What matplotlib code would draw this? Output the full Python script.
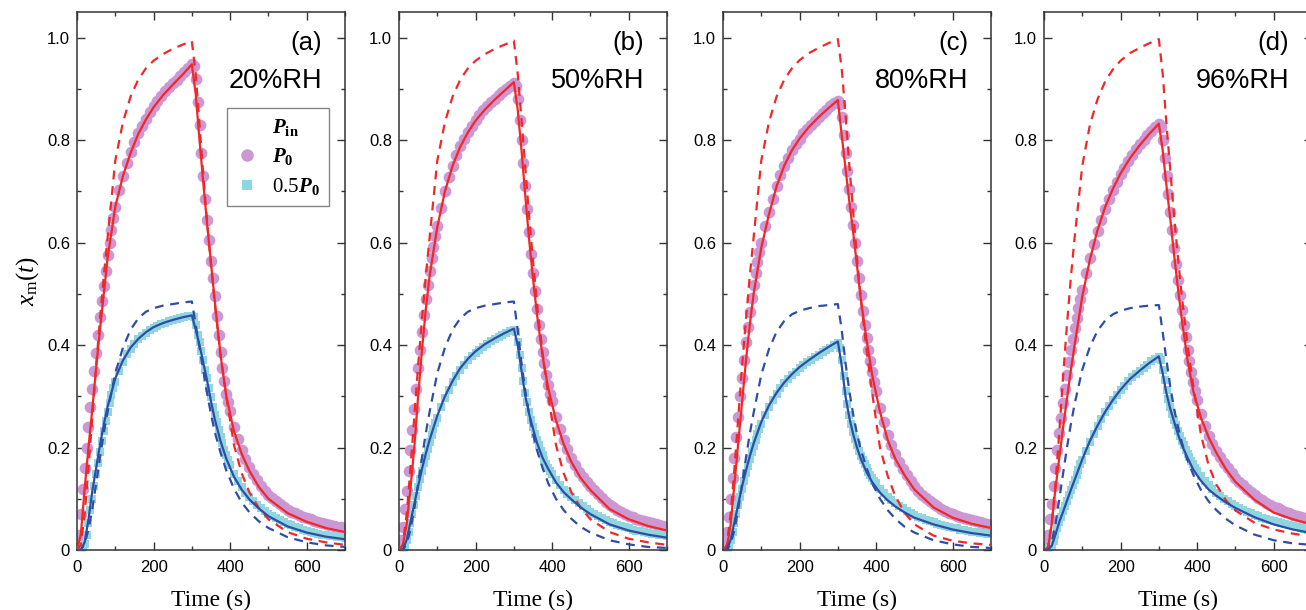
import matplotlib
matplotlib.use("Agg")
import matplotlib.pyplot as plt
from matplotlib.lines import Line2D
from matplotlib.ticker import MultipleLocator

plt.rcParams['font.family'] = ['Liberation Sans', 'DejaVu Sans']
plt.rcParams['mathtext.fontset'] = 'custom'
plt.rcParams['mathtext.rm'] = 'Liberation Serif'
plt.rcParams['mathtext.it'] = 'Liberation Serif:italic'
plt.rcParams['mathtext.bf'] = 'Liberation Serif:bold'
plt.rcParams['mathtext.bfit'] = 'Liberation Serif:italic:bold'

# time grids (s)
t_line = [0, 10, 20, 30, 40, 50, 60, 70, 80, 100, 120, 140, 160, 180, 200, 225, 250, 275, 300,
          310, 320, 330, 340, 350, 360, 375, 390, 410, 430, 450, 475, 500, 550, 600, 650, 700]
t_data = [0, 5, 10, 15, 20, 25, 30, 35, 40, 45, 50, 55, 60, 65, 70, 75, 80, 85, 90, 95, 100,
          110, 120, 130, 140, 150, 160, 170, 180, 190, 200, 210, 220, 230, 240, 250, 260, 270, 280, 290,
          300, 305, 310, 315, 320, 325, 330, 335, 340, 345, 350, 355, 360, 365, 370, 375, 380, 385,
          390, 395, 400,
          410, 420, 430, 440, 450, 460, 470, 480, 490, 500, 510, 520, 530, 540, 550, 560, 570, 580,
          590, 600, 610, 620, 630, 640, 650, 660, 670, 680, 690, 700]

panel_tags = ['(a)', '(b)', '(c)', '(d)']
rh_labels = ['20%RH', '50%RH', '80%RH', '96%RH']

# ---- (a) 20%RH ----
p0_a = [0, 0.03, 0.07, 0.12, 0.16, 0.2, 0.24, 0.28, 0.315, 0.35, 0.385, 0.42, 0.455, 0.485, 0.515,
        0.545, 0.575, 0.6, 0.625, 0.648, 0.67,
        0.702, 0.73, 0.755, 0.777, 0.796, 0.813, 0.828, 0.842, 0.854, 0.866, 0.876, 0.886, 0.895,
        0.903, 0.911, 0.918, 0.926, 0.933, 0.94,
        0.948, 0.945, 0.92, 0.875, 0.83, 0.775, 0.73, 0.685, 0.645, 0.605, 0.565, 0.53, 0.495, 0.457,
        0.42, 0.386, 0.356, 0.33, 0.305, 0.288, 0.272,
        0.24, 0.216, 0.195, 0.178, 0.162, 0.148, 0.136, 0.125, 0.116, 0.108, 0.101, 0.095, 0.09,
        0.084, 0.079, 0.075, 0.072, 0.068, 0.065, 0.062, 0.06, 0.057, 0.055, 0.052, 0.05, 0.048,
        0.047, 0.045, 0.044, 0.043]
half_a = [0, 0, 0, 0.003, 0.012, 0.03, 0.052, 0.078, 0.1, 0.125, 0.148, 0.17, 0.192, 0.213, 0.233,
          0.252, 0.27, 0.287, 0.302, 0.316, 0.328,
          0.35, 0.367, 0.382, 0.393, 0.403, 0.411, 0.418, 0.424, 0.429, 0.434, 0.438, 0.441, 0.444,
          0.447, 0.449, 0.451, 0.453, 0.455, 0.456,
          0.457, 0.455, 0.44, 0.42, 0.405, 0.388, 0.37, 0.352, 0.335, 0.316, 0.298, 0.28, 0.263,
          0.249, 0.235, 0.221, 0.208, 0.196, 0.185, 0.175, 0.165,
          0.148, 0.134, 0.122, 0.112, 0.103, 0.095, 0.088, 0.082, 0.076, 0.071, 0.066, 0.062, 0.058,
          0.054, 0.051, 0.048, 0.045, 0.042, 0.04, 0.038, 0.036, 0.034, 0.032, 0.03, 0.029, 0.028,
          0.027, 0.026, 0.025, 0.024]
fit_p0_a = [0, 0.03, 0.12, 0.2, 0.275, 0.355, 0.43, 0.5, 0.57, 0.67, 0.73, 0.775, 0.812, 0.84,
            0.864, 0.888, 0.908, 0.927, 0.948,
            0.89, 0.8, 0.715, 0.635, 0.56, 0.485, 0.38, 0.3, 0.232, 0.188, 0.155, 0.123, 0.1,
            0.072, 0.055, 0.043, 0.035]
fit_half_a = [0, 0, 0.015, 0.06, 0.115, 0.16, 0.205, 0.245, 0.28, 0.335, 0.37, 0.395, 0.412, 0.425,
              0.435, 0.443, 0.449, 0.454, 0.458,
              0.43, 0.4, 0.365, 0.33, 0.29, 0.255, 0.212, 0.178, 0.143, 0.118, 0.099, 0.081, 0.066,
              0.046, 0.034, 0.026, 0.021]
model_p0_a = [0, 0.01, 0.07, 0.16, 0.26, 0.36, 0.45, 0.535, 0.61, 0.76, 0.835, 0.885, 0.918, 0.94,
              0.955, 0.968, 0.978, 0.986, 0.993,
              0.93, 0.83, 0.73, 0.64, 0.555, 0.48, 0.38, 0.3, 0.205, 0.15, 0.113, 0.082, 0.06,
              0.035, 0.022, 0.015, 0.01]
model_half_a = [0, 0, 0.012, 0.04, 0.08, 0.13, 0.18, 0.228, 0.27, 0.345, 0.395, 0.43, 0.452, 0.465,
                0.472, 0.477, 0.48, 0.483, 0.485,
                0.44, 0.395, 0.35, 0.305, 0.265, 0.23, 0.19, 0.155, 0.12, 0.093, 0.074, 0.056, 0.043,
                0.025, 0.015, 0.009, 0.006]

# ---- (b) 50%RH ----
p0_b = [0, 0.02, 0.045, 0.08, 0.115, 0.155, 0.195, 0.235, 0.275, 0.315, 0.355, 0.39, 0.425, 0.458,
        0.49, 0.518, 0.545, 0.569, 0.592, 0.612, 0.632,
        0.668, 0.7, 0.727, 0.75, 0.77, 0.788, 0.803, 0.816, 0.828, 0.839, 0.849, 0.858, 0.866,
        0.874, 0.881, 0.888, 0.894, 0.9, 0.906,
        0.912, 0.905, 0.88, 0.84, 0.8, 0.755, 0.71, 0.665, 0.62, 0.578, 0.54, 0.505, 0.47, 0.44,
        0.412, 0.387, 0.364, 0.342, 0.322, 0.305, 0.29,
        0.26, 0.236, 0.214, 0.197, 0.179, 0.165, 0.153, 0.143, 0.133, 0.125, 0.117, 0.109, 0.101,
        0.094, 0.088, 0.083, 0.079, 0.075, 0.071, 0.067, 0.064, 0.061, 0.059, 0.056, 0.054, 0.052,
        0.05, 0.048, 0.046, 0.045]
half_b = [0, 0, 0.002, 0.008, 0.02, 0.036, 0.053, 0.07, 0.088, 0.105, 0.122, 0.138, 0.154, 0.169,
          0.184, 0.198, 0.211, 0.224, 0.236, 0.247, 0.258,
          0.279, 0.297, 0.313, 0.327, 0.34, 0.351, 0.361, 0.37, 0.378, 0.385, 0.391, 0.397, 0.402,
          0.407, 0.411, 0.415, 0.419, 0.423, 0.427,
          0.43, 0.425, 0.405, 0.38, 0.355, 0.33, 0.307, 0.288, 0.27, 0.254, 0.24, 0.227, 0.215,
          0.204, 0.194, 0.185, 0.176, 0.168, 0.161, 0.154, 0.148,
          0.137, 0.127, 0.118, 0.11, 0.103, 0.097, 0.091, 0.085, 0.08, 0.075, 0.07, 0.066, 0.062,
          0.058, 0.055, 0.052, 0.049, 0.046, 0.044, 0.042, 0.04, 0.038, 0.037, 0.035, 0.034, 0.032,
          0.031, 0.03, 0.029, 0.028]
fit_p0_b = [0, 0.01, 0.05, 0.12, 0.2, 0.3, 0.39, 0.47, 0.535, 0.63, 0.7, 0.75, 0.787, 0.815,
            0.838, 0.86, 0.879, 0.896, 0.913,
            0.86, 0.78, 0.69, 0.605, 0.53, 0.462, 0.378, 0.315, 0.253, 0.207, 0.172, 0.14, 0.117,
            0.08, 0.06, 0.047, 0.038]
fit_half_b = [0, 0, 0.02, 0.055, 0.09, 0.125, 0.158, 0.188, 0.215, 0.262, 0.3, 0.33, 0.355, 0.373,
              0.388, 0.402, 0.413, 0.423, 0.432,
              0.4, 0.35, 0.3, 0.265, 0.237, 0.21, 0.18, 0.158, 0.132, 0.113, 0.099, 0.083, 0.07,
              0.05, 0.038, 0.03, 0.024]
model_p0_b = [0, 0.01, 0.07, 0.16, 0.26, 0.36, 0.45, 0.535, 0.61, 0.76, 0.835, 0.885, 0.918, 0.94,
              0.955, 0.968, 0.978, 0.986, 0.994,
              0.93, 0.84, 0.745, 0.65, 0.565, 0.485, 0.385, 0.3, 0.205, 0.15, 0.113, 0.082, 0.06,
              0.035, 0.022, 0.015, 0.01]
model_half_b = [0, 0, 0.012, 0.04, 0.08, 0.13, 0.18, 0.228, 0.27, 0.345, 0.395, 0.43, 0.452, 0.465,
                0.472, 0.477, 0.48, 0.483, 0.485,
                0.43, 0.365, 0.31, 0.265, 0.227, 0.196, 0.16, 0.13, 0.1, 0.078, 0.061, 0.045, 0.034,
                0.019, 0.011, 0.006, 0.004]

# ---- (c) 80%RH ----
p0_c = [0, 0.015, 0.035, 0.065, 0.1, 0.14, 0.18, 0.22, 0.26, 0.3, 0.335, 0.37, 0.405, 0.436,
        0.465, 0.492, 0.518, 0.541, 0.563, 0.582, 0.6,
        0.632, 0.66, 0.686, 0.71, 0.731, 0.75, 0.766, 0.78, 0.792, 0.803, 0.813, 0.822, 0.83,
        0.838, 0.845, 0.852, 0.859, 0.866, 0.872,
        0.877, 0.87, 0.845, 0.81, 0.775, 0.74, 0.705, 0.67, 0.635, 0.6, 0.565, 0.53, 0.497, 0.467,
        0.44, 0.414, 0.39, 0.368, 0.347, 0.328, 0.31,
        0.278, 0.25, 0.225, 0.205, 0.188, 0.172, 0.158, 0.146, 0.135, 0.125, 0.116, 0.108, 0.101,
        0.095, 0.09, 0.085, 0.08, 0.076, 0.073, 0.07, 0.067, 0.064, 0.062, 0.06, 0.058, 0.056,
        0.054, 0.052, 0.05, 0.049]
half_c = [0, 0, 0.002, 0.008, 0.02, 0.036, 0.053, 0.07, 0.087, 0.104, 0.12, 0.135, 0.15, 0.164,
          0.178, 0.191, 0.203, 0.215, 0.226, 0.236, 0.246,
          0.264, 0.279, 0.293, 0.305, 0.316, 0.325, 0.334, 0.341, 0.348, 0.355, 0.361, 0.366, 0.371,
          0.376, 0.381, 0.386, 0.39, 0.395, 0.4,
          0.404, 0.395, 0.37, 0.34, 0.31, 0.285, 0.264, 0.246, 0.231, 0.217, 0.205, 0.194, 0.184,
          0.175, 0.167, 0.16, 0.153, 0.146, 0.14, 0.135, 0.13,
          0.12, 0.112, 0.104, 0.097, 0.091, 0.086, 0.081, 0.076, 0.072, 0.068, 0.065, 0.062, 0.059,
          0.056, 0.054, 0.051, 0.049, 0.047, 0.045, 0.043, 0.042, 0.04, 0.039, 0.037, 0.036, 0.035,
          0.034, 0.033, 0.032, 0.031]
fit_p0_c = [0, 0.005, 0.05, 0.13, 0.21, 0.29, 0.37, 0.44, 0.5, 0.59, 0.655, 0.71, 0.75, 0.78,
            0.803, 0.826, 0.845, 0.862, 0.878,
            0.81, 0.745, 0.68, 0.62, 0.555, 0.49, 0.41, 0.34, 0.27, 0.215, 0.178, 0.145, 0.118,
            0.083, 0.063, 0.051, 0.043]
fit_half_c = [0, 0, 0.02, 0.055, 0.09, 0.125, 0.155, 0.183, 0.208, 0.25, 0.282, 0.307, 0.327, 0.343,
              0.357, 0.371, 0.384, 0.396, 0.407,
              0.36, 0.3, 0.258, 0.226, 0.2, 0.178, 0.152, 0.132, 0.112, 0.097, 0.085, 0.073, 0.063,
              0.05, 0.04, 0.033, 0.028]
model_p0_c = [0, 0.01, 0.07, 0.16, 0.26, 0.36, 0.45, 0.535, 0.61, 0.76, 0.835, 0.885, 0.918, 0.94,
              0.956, 0.97, 0.98, 0.989, 0.997,
              0.94, 0.85, 0.75, 0.66, 0.57, 0.49, 0.39, 0.305, 0.2, 0.145, 0.105, 0.072, 0.05,
              0.028, 0.018, 0.013, 0.01]
model_half_c = [0, 0, 0.012, 0.04, 0.08, 0.13, 0.18, 0.227, 0.268, 0.342, 0.392, 0.426, 0.447, 0.46,
                0.467, 0.472, 0.476, 0.478, 0.48,
                0.43, 0.365, 0.31, 0.265, 0.227, 0.196, 0.16, 0.13, 0.1, 0.078, 0.061, 0.045, 0.034,
                0.019, 0.011, 0.006, 0.004]

# ---- (d) 96%RH ----
p0_d = [0, 0.01, 0.03, 0.06, 0.09, 0.125, 0.16, 0.195, 0.228, 0.258, 0.287, 0.315, 0.342, 0.367,
        0.39, 0.412, 0.433, 0.453, 0.472, 0.49, 0.508,
        0.54, 0.57, 0.597, 0.622, 0.645, 0.666, 0.685, 0.702, 0.718, 0.733, 0.746, 0.759, 0.771,
        0.782, 0.792, 0.801, 0.81, 0.818, 0.826,
        0.832, 0.825, 0.8, 0.765, 0.73, 0.695, 0.66, 0.625, 0.59, 0.558, 0.527, 0.497, 0.468, 0.44,
        0.415, 0.39, 0.368, 0.347, 0.327, 0.31, 0.293,
        0.265, 0.242, 0.223, 0.207, 0.193, 0.181, 0.17, 0.16, 0.15, 0.141, 0.133, 0.126, 0.119,
        0.113, 0.107, 0.102, 0.097, 0.092, 0.088, 0.084, 0.081, 0.078, 0.075, 0.072, 0.069, 0.066,
        0.064, 0.062, 0.06, 0.058]
half_d = [0, 0, 0, 0.003, 0.008, 0.018, 0.03, 0.042, 0.054, 0.065, 0.076, 0.086, 0.096, 0.107,
          0.117, 0.127, 0.137, 0.147, 0.157, 0.167, 0.176,
          0.194, 0.211, 0.227, 0.242, 0.256, 0.269, 0.281, 0.292, 0.302, 0.312, 0.321, 0.329, 0.337,
          0.344, 0.35, 0.356, 0.362, 0.368, 0.373,
          0.377, 0.37, 0.352, 0.332, 0.312, 0.295, 0.28, 0.266, 0.254, 0.243, 0.232, 0.222, 0.213,
          0.204, 0.196, 0.188, 0.181, 0.174, 0.167, 0.161, 0.155,
          0.144, 0.135, 0.126, 0.119, 0.112, 0.106, 0.1, 0.095, 0.09, 0.086, 0.082, 0.078, 0.075,
          0.072, 0.069, 0.066, 0.063, 0.06, 0.058, 0.056, 0.054, 0.052, 0.05, 0.048, 0.046, 0.044,
          0.043, 0.041, 0.04, 0.039]
fit_p0_d = [0, 0.0, 0.05, 0.12, 0.18, 0.24, 0.295, 0.35, 0.4, 0.495, 0.567, 0.625, 0.67, 0.705,
            0.735, 0.765, 0.79, 0.812, 0.832,
            0.78, 0.71, 0.645, 0.575, 0.51, 0.45, 0.37, 0.31, 0.258, 0.22, 0.19, 0.158, 0.133,
            0.098, 0.073, 0.06, 0.05]
fit_half_d = [0, 0, 0.008, 0.03, 0.055, 0.075, 0.096, 0.117, 0.137, 0.177, 0.213, 0.243, 0.27, 0.293,
              0.313, 0.334, 0.35, 0.365, 0.378,
              0.345, 0.305, 0.275, 0.25, 0.226, 0.205, 0.18, 0.157, 0.135, 0.118, 0.106, 0.093, 0.082,
              0.064, 0.05, 0.04, 0.033]
model_p0_d = [0, 0.005, 0.05, 0.13, 0.23, 0.34, 0.44, 0.53, 0.61, 0.75, 0.83, 0.88, 0.915, 0.938,
              0.955, 0.97, 0.98, 0.989, 0.997,
              0.93, 0.83, 0.74, 0.65, 0.57, 0.495, 0.4, 0.32, 0.225, 0.165, 0.128, 0.097, 0.077,
              0.053, 0.04, 0.032, 0.026]
model_half_d = [0, 0, 0.015, 0.05, 0.1, 0.15, 0.2, 0.245, 0.285, 0.352, 0.397, 0.428, 0.448, 0.46,
                0.467, 0.472, 0.475, 0.477, 0.478,
                0.425, 0.37, 0.318, 0.275, 0.24, 0.21, 0.175, 0.147, 0.117, 0.095, 0.078, 0.061, 0.048,
                0.03, 0.019, 0.013, 0.01]

panels = [
    (p0_a, half_a, fit_p0_a, fit_half_a, model_p0_a, model_half_a),
    (p0_b, half_b, fit_p0_b, fit_half_b, model_p0_b, model_half_b),
    (p0_c, half_c, fit_p0_c, fit_half_c, model_p0_c, model_half_c),
    (p0_d, half_d, fit_p0_d, fit_half_d, model_p0_d, model_half_d),
]

c_purple = '#cc97d3'
c_cyan = '#8fd6e1'
c_red = '#f02828'
c_blue = '#2e4ea6'

fig = plt.figure(figsize=(13.06, 6.10), dpi=100)
lefts = [77, 399, 723, 1044]

for i, (p0, half, fp0, fhalf, mp0, mhalf) in enumerate(panels):
    ax = fig.add_axes([lefts[i] / 1306, 60 / 610, 268 / 1306, 538 / 610])
    ax.plot(t_data, p0, 'o', color=c_purple, ms=8.4, mew=0, zorder=2)
    ax.plot(t_data, half, 's', color=c_cyan, ms=6.4, mew=0, zorder=2)
    ax.plot(t_line, fp0, '-', color=c_red, lw=1.6, zorder=4)
    ax.plot(t_line, fhalf, '-', color=c_blue, lw=1.6, zorder=4)
    ax.plot(t_line, mp0, '--', color=c_red, lw=1.6, dashes=(4, 3), zorder=3)
    ax.plot(t_line, mhalf, '--', color=c_blue, lw=1.6, dashes=(4, 3), zorder=3)

    ax.set_xlim(0, 700)
    ax.set_ylim(0, 1.05)
    ax.xaxis.set_major_locator(MultipleLocator(200))
    ax.xaxis.set_minor_locator(MultipleLocator(100))
    ax.yaxis.set_minor_locator(MultipleLocator(0.1))
    ax.set_yticks([0, 0.2, 0.4, 0.6, 0.8, 1.0])
    ax.set_yticklabels(['0', '0.2', '0.4', '0.6', '0.8', '1.0'])
    ax.tick_params(which='both', direction='in', top=True, right=True, labelsize=12,
                   color='#333333', width=1)
    ax.tick_params(which='major', length=6, pad=5)
    ax.tick_params(axis='x', which='major', pad=7)
    ax.tick_params(which='minor', length=3)
    for s in ax.spines.values():
        s.set_color('#333333')
        s.set_linewidth(1.1)

    ax.set_xlabel('Time (s)', fontfamily='Liberation Serif', fontsize=17, labelpad=11)
    ax.text(0.915, 0.942, panel_tags[i], transform=ax.transAxes, ha='right', va='center',
            fontsize=18.5)
    ax.text(0.915, 0.872, rh_labels[i], transform=ax.transAxes, ha='right', va='center',
            fontsize=19.5)

    if i == 0:
        ax.set_ylabel(r'$x_{\mathrm{m}}(t)$', fontsize=18, labelpad=4)
        handles = [
            Line2D([], [], linestyle='none'),
            Line2D([], [], linestyle='none', marker='o', color=c_purple, ms=9, mew=0),
            Line2D([], [], linestyle='none', marker='s', color=c_cyan, ms=7, mew=0),
        ]
        labels = [r'$\mathbfit{P}_{\mathbf{in}}$', r'$\mathbfit{P}_{\mathbf{0}}$',
                  r'$0.5\mathbfit{P}_{\mathbf{0}}$']
        leg = ax.legend(handles, labels, loc='upper left', bbox_to_anchor=(0.56, 0.822),
                        borderaxespad=0, frameon=True, fancybox=False, fontsize=15,
                        handlelength=1.0, handletextpad=0.7, labelspacing=0.4,
                        borderpad=0.45)
        leg.get_frame().set_edgecolor('#666666')
        leg.get_frame().set_linewidth(1.0)

fig.savefig('out.png', dpi=100)
